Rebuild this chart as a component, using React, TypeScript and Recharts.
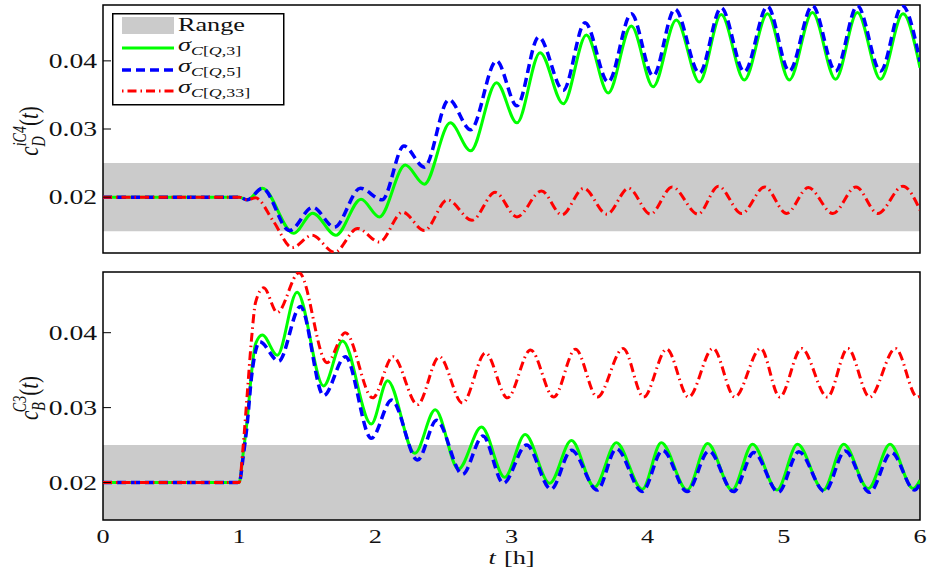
import React from "react"
import { LineChart, Line, XAxis, YAxis, ReferenceArea, Legend } from "recharts"

const FONT = "'Liberation Serif', 'DejaVu Serif', serif"
const SX = 1.38

const GREEN = "#00ff00"
const BLUE = "#0000ff"
const RED = "#ff0000"
const GRAY = "#cbcbcb"

// x axis (hours)
const xTicks = [0, 1, 2, 3, 4, 5, 6]
const yTicks = [0.02, 0.03, 0.04]
const rangeLow = 0.015
const rangeHigh = 0.025

// top panel: c_D^{iC4}(t)
const topGreenT = [0, 1.0, 1.06, 1.17, 1.4, 1.54, 1.71, 1.895, 2.03, 2.22, 2.36, 2.55, 2.7, 2.89, 3.04, 3.21, 3.38, 3.55, 3.71, 3.88, 4.04, 4.21, 4.38, 4.54, 4.71, 4.88, 5.04, 5.21, 5.38, 5.54, 5.71, 5.875, 6.0]
const topGreenV = [0.02, 0.02, 0.0196, 0.0213, 0.0147, 0.01765, 0.0144, 0.0197, 0.0171, 0.0247, 0.0219, 0.0309, 0.0268, 0.0368, 0.0309, 0.0412, 0.0337, 0.0438, 0.0353, 0.0451, 0.0362, 0.046, 0.0369, 0.0468, 0.0372, 0.0469, 0.0372, 0.0471, 0.0373, 0.0471, 0.0373, 0.0469, 0.039]

const topBlueT = [0, 1.0, 1.06, 1.17, 1.37, 1.54, 1.7, 1.89, 2.05, 2.21, 2.36, 2.54, 2.7, 2.89, 3.04, 3.2, 3.38, 3.54, 3.71, 3.88, 4.04, 4.2, 4.38, 4.54, 4.71, 4.88, 5.04, 5.21, 5.38, 5.54, 5.71, 5.87, 6.0]
const topBlueV = [0.02, 0.02, 0.0196, 0.0213, 0.0151, 0.0185, 0.0156, 0.0213, 0.0196, 0.0275, 0.0244, 0.0343, 0.0299, 0.04, 0.0334, 0.0435, 0.0357, 0.0456, 0.0369, 0.0469, 0.0378, 0.0476, 0.0382, 0.0478, 0.0384, 0.048, 0.0385, 0.0481, 0.0385, 0.0481, 0.0385, 0.0481, 0.0399]

const topRedT = [0, 1.0, 1.06, 1.12, 1.25, 1.39, 1.535, 1.7, 1.87, 2.03, 2.2, 2.36, 2.53, 2.71, 2.88, 3.04, 3.22, 3.37, 3.53, 3.7, 3.86, 4.02, 4.18, 4.37, 4.52, 4.69, 4.86, 5.02, 5.18, 5.36, 5.53, 5.69, 5.875, 6.0]
const topRedV = [0.02, 0.02, 0.0196, 0.0199, 0.0165, 0.0126, 0.0144, 0.0119, 0.0154, 0.0134, 0.0178, 0.0151, 0.0196, 0.0166, 0.0207, 0.0171, 0.0209, 0.0174, 0.0213, 0.0175, 0.0213, 0.0175, 0.0215, 0.0175, 0.0216, 0.0176, 0.0215, 0.0176, 0.0214, 0.0176, 0.0215, 0.0176, 0.0216, 0.0181]

// bottom panel: c_B^{C3}(t)
const botGreenT = [0, 1.0, 1.03, 1.06, 1.09, 1.12, 1.17, 1.28, 1.425, 1.62, 1.76, 1.97, 2.09, 2.29, 2.44, 2.61, 2.78, 2.95, 3.1, 3.28, 3.44, 3.61, 3.77, 3.96, 4.1, 4.29, 4.44, 4.62, 4.77, 4.95, 5.1, 5.29, 5.44, 5.62, 5.78, 5.95, 6.0]
const botGreenV = [0.02, 0.02, 0.024, 0.0285, 0.0345, 0.0385, 0.0397, 0.037, 0.0454, 0.0329, 0.0389, 0.0278, 0.0336, 0.0239, 0.0297, 0.0218, 0.0274, 0.0207, 0.0264, 0.0199, 0.0256, 0.0194, 0.0253, 0.0191, 0.0253, 0.019, 0.0252, 0.019, 0.0251, 0.019, 0.0251, 0.019, 0.0251, 0.0192, 0.0251, 0.0192, 0.0203]

const botBlueT = [0, 1.0, 1.03, 1.06, 1.09, 1.12, 1.15, 1.29, 1.45, 1.62, 1.78, 1.97, 2.12, 2.31, 2.45, 2.64, 2.79, 2.94, 3.11, 3.29, 3.44, 3.63, 3.77, 3.96, 4.11, 4.29, 4.45, 4.63, 4.78, 4.96, 5.11, 5.3, 5.45, 5.63, 5.79, 5.96, 6.0]
const botBlueV = [0.02, 0.02, 0.0235, 0.028, 0.034, 0.0375, 0.0388, 0.0362, 0.0435, 0.0316, 0.0368, 0.0259, 0.031, 0.023, 0.0283, 0.0211, 0.0262, 0.0199, 0.025, 0.0191, 0.0243, 0.019, 0.0245, 0.0188, 0.0243, 0.0188, 0.0242, 0.0188, 0.024, 0.0187, 0.0241, 0.0188, 0.0242, 0.0187, 0.024, 0.019, 0.0199]

const botRedT = [0, 1.0, 1.03, 1.06, 1.09, 1.12, 1.18, 1.28, 1.44, 1.645, 1.78, 1.98, 2.13, 2.31, 2.47, 2.64, 2.81, 2.97, 3.14, 3.31, 3.47, 3.63, 3.82, 3.97, 4.14, 4.3, 4.48, 4.64, 4.83, 4.97, 5.13, 5.32, 5.47, 5.63, 5.82, 5.98, 6.0]
const botRedV = [0.02, 0.02, 0.025, 0.032, 0.039, 0.044, 0.046, 0.0427, 0.048, 0.036, 0.04, 0.0313, 0.0368, 0.0304, 0.0368, 0.0306, 0.0373, 0.0313, 0.0377, 0.0314, 0.0378, 0.0314, 0.0379, 0.0314, 0.0378, 0.0314, 0.0379, 0.0314, 0.0379, 0.0314, 0.0379, 0.0314, 0.0379, 0.0314, 0.0379, 0.0314, 0.0316]

const pts = (t: number[], v: number[]) => t.map((x, i) => ({ t: x, v: v[i] }))

const topDomain = [0.0118, 0.0482]
const botDomain = [0.015, 0.0481]

function LeftTick(props: any) {
  const { x, y, payload } = props
  return (
    <g>
      <line x1={x} x2={x + 8} y1={y} y2={y} stroke="#000" strokeWidth={1} />
      <text
        transform={`translate(${x - 6},${y + 7}) scale(${SX},1)`}
        textAnchor="end"
        fontFamily={FONT}
        fontSize={20}
        fill="#111"
      >
        {Number(payload.value).toFixed(2)}
      </text>
    </g>
  )
}

function RightTick(props: any) {
  const { x, y } = props
  return <line x1={x - 8} x2={x} y1={y} y2={y} stroke="#000" strokeWidth={1} />
}

function TopTick(props: any) {
  const { x, y } = props
  return <line x1={x} x2={x} y1={y} y2={y + 8} stroke="#000" strokeWidth={1} />
}

function BottomTick(props: any) {
  const { x, y, payload } = props
  return (
    <text
      transform={`translate(${x},${y + 23}) scale(${SX},1)`}
      textAnchor="middle"
      fontFamily={FONT}
      fontSize={19}
      fill="#111"
    >
      {payload.value}
    </text>
  )
}

function XLabel(props: any) {
  const vb = props.viewBox || { x: 0, y: 0, width: 0 }
  return (
    <text
      transform={`translate(${vb.x + vb.width / 2},${vb.y + 44}) scale(${SX},1)`}
      textAnchor="middle"
      fontFamily={FONT}
      fontSize={19}
      fill="#111"
    >
      <tspan fontStyle="italic">t</tspan>
      <tspan dx={6}>[h]</tspan>
    </text>
  )
}

function YLabel(props: any) {
  const vb = props.viewBox || { x: 0, y: 0, height: 0 }
  const cx = vb.x + 38
  const cy = vb.y + vb.height / 2 + 2
  return (
    <text
      transform={`translate(${cx},${cy}) rotate(-90) scale(1,1.35)`}
      textAnchor="middle"
      fontFamily={FONT}
      fontSize={21}
      fill="#111"
    >
      <tspan fontStyle="italic">c</tspan>
      <tspan fontSize={14} fontStyle="italic" dy={5}>{props.sub}</tspan>
      <tspan fontSize={14} fontStyle="italic" dx={-props.subW} dy={-14}>{props.sup}</tspan>
      <tspan dy={9}>(</tspan>
      <tspan fontStyle="italic">t</tspan>
      <tspan>)</tspan>
    </text>
  )
}

function SigmaText({ x, y, n }: { x: number; y: number; n: string }) {
  return (
    <text transform={`translate(${x},${y}) scale(${SX},1)`} fontFamily={FONT} fontSize={19} fill="#111">
      <tspan fontStyle="italic">σ</tspan>
      <tspan fontSize={13} dy={4}>
        <tspan fontStyle="italic">C</tspan>[<tspan fontStyle="italic">Q</tspan>,{n}]
      </tspan>
    </text>
  )
}

function LegendBox() {
  return (
    <svg width={173} height={93} style={{ display: "block" }}>
      <rect x={0.75} y={0.75} width={171} height={91} fill="#fff" stroke="#000" strokeWidth={1.5} />
      <rect x={10} y={4} width={52} height={17} fill={GRAY} />
      <text transform={`translate(66,18) scale(${SX},1)`} fontFamily={FONT} fontSize={19} fill="#111">Range</text>
      <line x1={10} x2={62} y1={35} y2={35} stroke={GREEN} strokeWidth={3} />
      <SigmaText x={66} y={38} n="3" />
      <line x1={10} x2={62} y1={57} y2={57} stroke={BLUE} strokeWidth={3.5} strokeDasharray="9 5" />
      <SigmaText x={66} y={59} n="5" />
      <line x1={10} x2={62} y1={78} y2={78} stroke={RED} strokeWidth={3} strokeDasharray="1.5 4 9 4" />
      <SigmaText x={66} y={80} n="33" />
    </svg>
  )
}

export default function App() {
  return (
    <div style={{ position: "absolute", left: 0, top: 0, width: 930, height: 579, background: "#fff" }}>
      <LineChart width={930} height={262} margin={{ top: 5, right: 10, bottom: 9, left: 0 }}>
        <XAxis dataKey="t" type="number" domain={[0, 6]} ticks={xTicks} hide allowDataOverflow />
        <YAxis
          yAxisId="l"
          type="number"
          domain={topDomain}
          ticks={yTicks}
          width={103}
          allowDataOverflow
          tickSize={0}
          tickMargin={0}
          tickLine={false}
          axisLine={false}
          tick={<LeftTick />}
          label={<YLabel sub="D" sup="iC4" subW={10} />}
        />
        <YAxis
          yAxisId="r"
          orientation="right"
          type="number"
          domain={topDomain}
          ticks={yTicks}
          width={0}
          allowDataOverflow
          tickSize={0}
          tickMargin={0}
          tickLine={false}
          axisLine={false}
          tick={<RightTick />}
        />
        <ReferenceArea yAxisId="l" x1={0} x2={6} y1={rangeLow} y2={rangeHigh} fill={GRAY} fillOpacity={1} stroke="none" />
        <Line yAxisId="l" data={pts(topGreenT, topGreenV)} dataKey="v" type="monotone" stroke={GREEN} strokeWidth={3} dot={false} isAnimationActive={false} />
        <Line yAxisId="l" data={pts(topBlueT, topBlueV)} dataKey="v" type="monotone" stroke={BLUE} strokeWidth={3.5} strokeDasharray="9 5" dot={false} isAnimationActive={false} />
        <Line yAxisId="l" data={pts(topRedT, topRedV)} dataKey="v" type="monotone" stroke={RED} strokeWidth={3} strokeDasharray="9 4 1.5 4" dot={false} isAnimationActive={false} />
        <ReferenceArea yAxisId="l" x1={0} x2={6} y1={topDomain[0]} y2={topDomain[1]} fill="none" stroke="#000" strokeWidth={1.5} />
        <Legend
          layout="horizontal"
          verticalAlign="middle"
          align="center"
          wrapperStyle={{ left: 112, top: 13, width: 173, height: 93 }}
          content={() => <LegendBox />}
        />
      </LineChart>
      <LineChart width={930} height={317} margin={{ top: 10, right: 10, bottom: 0, left: 0 }}>
        <XAxis
          dataKey="t"
          type="number"
          domain={[0, 6]}
          ticks={xTicks}
          height={59}
          allowDataOverflow
          tickSize={0}
          tickMargin={0}
          tickLine={false}
          axisLine={false}
          tick={<BottomTick />}
          label={<XLabel />}
        />
        <XAxis
          xAxisId="top"
          orientation="top"
          type="number"
          domain={[0, 6]}
          ticks={[1, 2, 3, 4, 5]}
          height={0}
          allowDataOverflow
          tickSize={0}
          tickMargin={0}
          tickLine={false}
          axisLine={false}
          tick={<TopTick />}
        />
        <YAxis
          yAxisId="l"
          type="number"
          domain={botDomain}
          ticks={yTicks}
          width={103}
          allowDataOverflow
          tickSize={0}
          tickMargin={0}
          tickLine={false}
          axisLine={false}
          tick={<LeftTick />}
          label={<YLabel sub="B" sup="C3" subW={10} />}
        />
        <YAxis
          yAxisId="r"
          orientation="right"
          type="number"
          domain={botDomain}
          ticks={yTicks}
          width={0}
          allowDataOverflow
          tickSize={0}
          tickMargin={0}
          tickLine={false}
          axisLine={false}
          tick={<RightTick />}
        />
        <ReferenceArea yAxisId="l" x1={0} x2={6} y1={rangeLow} y2={rangeHigh} fill={GRAY} fillOpacity={1} stroke="none" />
        <Line yAxisId="l" data={pts(botGreenT, botGreenV)} dataKey="v" type="monotone" stroke={GREEN} strokeWidth={3} dot={false} isAnimationActive={false} />
        <Line yAxisId="l" data={pts(botBlueT, botBlueV)} dataKey="v" type="monotone" stroke={BLUE} strokeWidth={3.5} strokeDasharray="9 5" dot={false} isAnimationActive={false} />
        <Line yAxisId="l" data={pts(botRedT, botRedV)} dataKey="v" type="monotone" stroke={RED} strokeWidth={3} strokeDasharray="9 4 1.5 4" dot={false} isAnimationActive={false} />
        <ReferenceArea yAxisId="l" x1={0} x2={6} y1={botDomain[0]} y2={botDomain[1]} fill="none" stroke="#000" strokeWidth={1.5} />
      </LineChart>
    </div>
  )
}
